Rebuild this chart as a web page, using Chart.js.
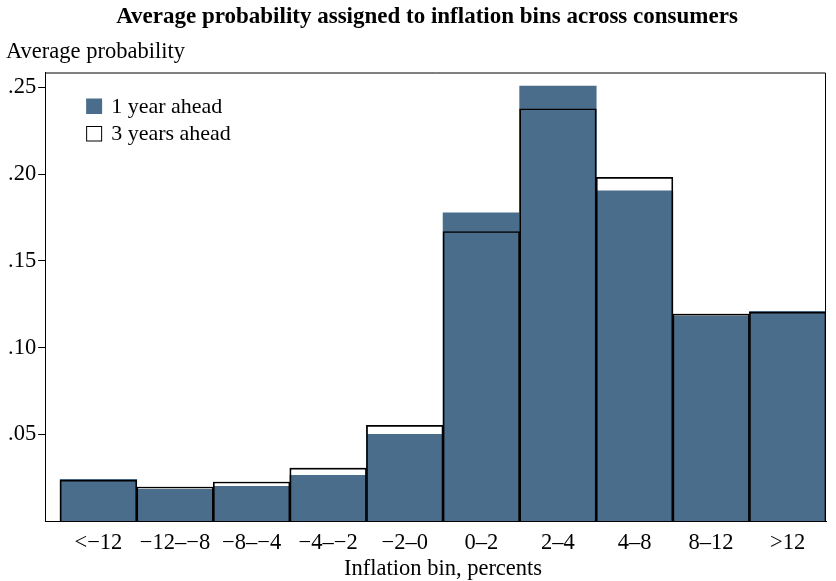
<!DOCTYPE html>
<html>
<head>
<meta charset="utf-8">
<script src="https://cdn.jsdelivr.net/npm/chart.js@4"></script>
<style>
  html, body { margin: 0; padding: 0; background: #fff; }
  #wrap { width: 836px; height: 581px; }
</style>
</head>
<body>
<div id="wrap"><canvas id="c" width="836" height="581"></canvas></div>
<script>
const categories = ['<\u221212', '\u221212\u2013\u22128', '\u22128\u2013\u22124', '\u22124\u2013\u22122', '\u22122\u20130', '0\u20132', '2\u20134', '4\u20138', '8\u201312', '>12'];
const oneYearAhead = [0.0240, 0.0182, 0.0200, 0.0263, 0.0500, 0.1778, 0.2509, 0.1905, 0.1181, 0.1210];
const threeYearsAhead = [0.0236, 0.0196, 0.0225, 0.0305, 0.0552, 0.1670, 0.2378, 0.1982, 0.1193, 0.1205];
const yTicks = [0.05, 0.10, 0.15, 0.20, 0.25];
const chartTitle = 'Average probability assigned to inflation bins across consumers';
const xTitle = 'Inflation bin, percents';

const SERIF = '"Liberation Serif", "DejaVu Serif", serif';
const BLUE = '#4a6d8c';
const FS = 22.5;

const toPoints = arr => arr.map((v, i) => ({ x: i + 0.5, y: v }));

const framePlugin = {
  id: 'frame',
  afterDatasetsDraw(chart) {
    const a = chart.chartArea, ctx = chart.ctx;
    ctx.save();
    ctx.strokeStyle = '#000';
    ctx.lineWidth = 1;
    ctx.beginPath();
    ctx.moveTo(a.left, a.top + 0.5);
    ctx.lineTo(a.right - 0.5, a.top + 0.5);
    ctx.lineTo(a.right - 0.5, a.bottom);
    ctx.stroke();
    ctx.restore();
  }
};

// main title and x-axis title, centred over the bars
const titlePlugin = {
  id: 'titles',
  afterDraw(chart) {
    const ctx = chart.ctx, xs = chart.scales.x;
    const mid = (xs.getPixelForValue(0) + xs.getPixelForValue(categories.length)) / 2;
    ctx.save();
    ctx.textAlign = 'center';
    ctx.textBaseline = 'middle';
    ctx.fillStyle = '#000';
    ctx.font = 'bold 23px ' + SERIF;
    ctx.fillText(chartTitle, 427, 17.5);
    ctx.font = FS + 'px ' + SERIF;
    ctx.fillText(xTitle, mid, 569.5);
    ctx.restore();
  }
};

// legend drawn inside the plot region (top-left)
const insideLegend = {
  id: 'insideLegend',
  afterDraw(chart) {
    const a = chart.chartArea, ctx = chart.ctx;
    const items = chart.data.datasets.filter(d => !d.label.startsWith('_'));
    ctx.save();
    ctx.font = '22px ' + SERIF;
    ctx.textBaseline = 'middle';
    items.forEach((d, i) => {
      const bx = a.left + 41, by = a.top + 26 + i * 27.5;
      ctx.fillStyle = d.backgroundColor;
      ctx.fillRect(bx, by, 16, 15.5);
      if (d.borderWidth) {
        ctx.strokeStyle = d.borderColor;
        ctx.lineWidth = 1;
        ctx.strokeRect(bx + 0.5, by + 0.5, 15, 14.5);
      }
      ctx.fillStyle = '#000';
      ctx.fillText(d.label, bx + 25, by + 8.5);
    });
    ctx.restore();
  }
};

new Chart(document.getElementById('c'), {
  type: 'bar',
  data: {
    datasets: [
      { label: '1 year ahead', data: toPoints(oneYearAhead), backgroundColor: BLUE, borderWidth: 0, order: 1 },
      { label: '3 years ahead', data: toPoints(threeYearsAhead), backgroundColor: '#ffffff', borderColor: '#000', borderWidth: 1, order: 2 },
      { label: '_outline', data: toPoints(threeYearsAhead), backgroundColor: 'rgba(0,0,0,0)', borderColor: '#000', borderWidth: 1, order: 0 }
    ]
  },
  options: {
    responsive: false,
    animation: false,
    events: [],
    layout: { padding: { left: 6, right: 10, top: 36.5, bottom: 0 } },
    datasets: { bar: { grouped: false, barPercentage: 1, categoryPercentage: 1 } },
    scales: {
      x: {
        type: 'linear',
        offset: false,
        min: -0.196, max: 10,
        grid: { display: false, drawTicks: false },
        border: { display: true, color: '#000', width: 1 },
        afterBuildTicks(scale) { scale.ticks = categories.map((c, i) => ({ value: i + 0.5 })); },
        afterFit(scale) { scale.height = 60; },
        ticks: {
          color: '#000', font: { family: SERIF, size: FS, lineHeight: 1 }, padding: 11, autoSkip: false, maxRotation: 0,
          callback: (v) => categories[Math.round(v - 0.5)]
        },
        title: { display: false }
      },
      y: {
        min: 0, max: 0.2587,
        afterBuildTicks(scale) { scale.ticks = yTicks.map(v => ({ value: v })); },
        grid: { drawOnChartArea: false, drawTicks: true, tickLength: 7, color: '#000' },
        border: { display: true, color: '#000', width: 1 },
        ticks: {
          color: '#000', font: { family: SERIF, size: FS }, padding: 2,
          callback: (v) => v.toFixed(2).replace(/^0/, '')
        }
      }
    },
    plugins: {
      tooltip: { enabled: false },
      legend: { display: false },
      title: { display: false },
      subtitle: { display: true, text: 'Average probability', align: 'start', color: '#000', font: { family: SERIF, size: FS, lineHeight: 1.2 }, padding: { top: 2, bottom: 7 } }
    }
  },
  plugins: [framePlugin, titlePlugin, insideLegend]
});
</script>
</body>
</html>
